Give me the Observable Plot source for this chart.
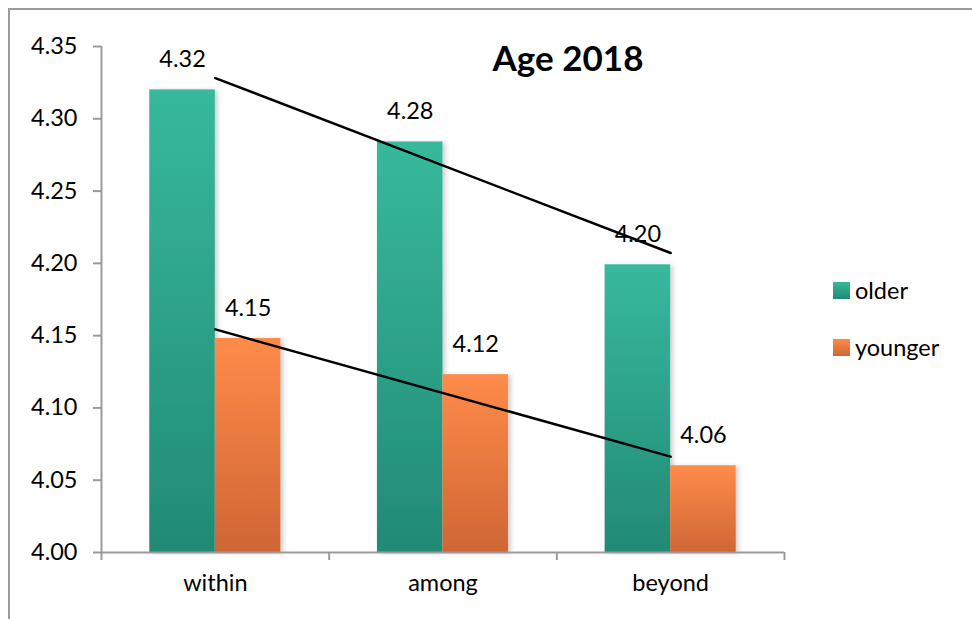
<!DOCTYPE html>
<html>
<head>
<meta charset="utf-8">
<script src="https://cdn.jsdelivr.net/npm/d3@7"></script>
<script src="https://cdn.jsdelivr.net/npm/@observablehq/plot@0.6"></script>
<style>
  html, body { margin: 0; padding: 0; background: #fff; }
  body { width: 972px; height: 619px; overflow: hidden; font-family: Lato, "Open Sans", sans-serif; }
  #wrap { position: relative; width: 972px; height: 619px; }
  #frame { position: absolute; left: 8px; top: 8px; width: 1100px; height: 900px; border: 2.5px solid #9b9b9b; box-sizing: border-box; pointer-events: none; }
  #chart { position: absolute; left: 0; top: 0; }
  #title { position: absolute; left: 568px; top: 57px; transform: translate(-50%, -50%); font-weight: 700; font-size: 35px; color: #000; white-space: nowrap; }
  .leg { position: absolute; left: 833px; display: flex; align-items: center; font-size: 23.5px; color: #000; }
  .sw { width: 17px; height: 17px; margin-right: 5px; }
</style>
</head>
<body>
<div id="wrap">
  <div id="frame"></div>
  <div id="chart"></div>
  <div id="title">Age 2018</div>
  <div id="legend"></div>
</div>
<script>
// ---- data ----
const categories = ["within", "among", "beyond"];
const seriesNames = ["older", "younger"];
const olderValues = [4.320, 4.284, 4.199];
const youngerValues = [4.148, 4.123, 4.060];
const yTicks = [4.00, 4.05, 4.10, 4.15, 4.20, 4.25, 4.30, 4.35];
const seriesColors = {
  older: ["#37b99c", "#228a75"],
  younger: ["#ff8b4a", "#cf6634"]
};

// ---- build rows ----
const olderRows = categories.map((c, i) => ({cat: c, idx: i + 1, series: "older", value: olderValues[i]}));
const youngerRows = categories.map((c, i) => ({cat: c, idx: i + 1, series: "younger", value: youngerValues[i]}));
const bw = 0.288;
const FS = 23.5;

const defs = () => {
  const d = d3.create("svg:defs");
  for (const s of seriesNames) {
    const g = d.append("linearGradient").attr("id", "grad-" + s)
      .attr("x1", 0).attr("y1", 0).attr("x2", 0).attr("y2", 1);
    g.append("stop").attr("offset", "0%").attr("stop-color", seriesColors[s][0]);
    g.append("stop").attr("offset", "100%").attr("stop-color", seriesColors[s][1]);
  }
  const f = d.append("filter").attr("id", "shadow").attr("x", "-10%").attr("y", "-10%").attr("width", "130%").attr("height", "120%");
  f.append("feDropShadow").attr("dx", 3).attr("dy", 1).attr("stdDeviation", 2)
    .attr("flood-color", "#000").attr("flood-opacity", 0.18);
  return d.node();
};

const chart = Plot.plot({
  width: 972,
  height: 619,
  marginLeft: 101,
  marginRight: 188,
  marginTop: 46,
  marginBottom: 67,
  style: {fontFamily: "Lato, 'Open Sans', sans-serif", fontSize: FS + "px", color: "#000", background: "transparent"},
  x: {type: "linear", domain: [0.5, 3.5], axis: null},
  y: {domain: [4.0, 4.35], axis: null},
  marks: [
    defs,
    Plot.rectY(olderRows, {x1: d => d.idx - bw, x2: d => d.idx, y1: 4.0, y2: "value", fill: "url(#grad-older)"}),
    Plot.rectY(youngerRows, {x1: d => d.idx, x2: d => d.idx + bw, y1: 4.0, y2: "value", fill: "url(#grad-younger)"}),
    Plot.ruleX([0.5], {stroke: "#9b9b9b", strokeWidth: 2}),
    Plot.ruleY([4.0], {stroke: "#9b9b9b", strokeWidth: 2}),
    Plot.axisY({ticks: yTicks, tickFormat: ".2f", tickSize: 8, tickPadding: 16, label: null, stroke: "#9b9b9b", strokeWidth: 2, fill: "#000", fontSize: FS}),
    Plot.axisX({ticks: [0.5, 1.5, 2.5, 3.5], tickSize: 8, tickFormat: () => "", label: null, stroke: "#9b9b9b", strokeWidth: 2}),
    Plot.text(categories, {x: (d, i) => i + 1, text: d => d, frameAnchor: "bottom", dy: 38, fontSize: FS, fill: "#000"}),
    Plot.text(olderRows, {x: d => d.idx - bw / 2, y: "value", text: d => d.value.toFixed(2), dy: -30, fontSize: FS, fill: "#000"}),
    Plot.text(youngerRows, {x: d => d.idx + bw / 2, y: "value", text: d => d.value.toFixed(2), dy: -30, fontSize: FS, fill: "#000"}),
    Plot.linearRegressionY(olderRows, {x: "idx", y: "value", stroke: "#000", strokeWidth: 2.5, ci: 0}),
    Plot.linearRegressionY(youngerRows, {x: "idx", y: "value", stroke: "#000", strokeWidth: 2.5, ci: 0})
  ]
});
document.getElementById("chart").appendChild(chart);
d3.select(chart).selectAll("g[aria-label=rect] rect").attr("filter", "url(#shadow)");

// ---- legend ----
const legend = document.getElementById("legend");
const legendTops = {older: 276, younger: 333};
for (const s of seriesNames) {
  const item = document.createElement("div");
  item.className = "leg";
  item.style.top = legendTops[s] + "px";
  const sw = document.createElement("div");
  sw.className = "sw";
  sw.style.background = `linear-gradient(${seriesColors[s][0]}, ${seriesColors[s][1]})`;
  const t = document.createElement("span");
  t.textContent = s;
  item.appendChild(sw);
  item.appendChild(t);
  legend.appendChild(item);
}
</script>
</body>
</html>
